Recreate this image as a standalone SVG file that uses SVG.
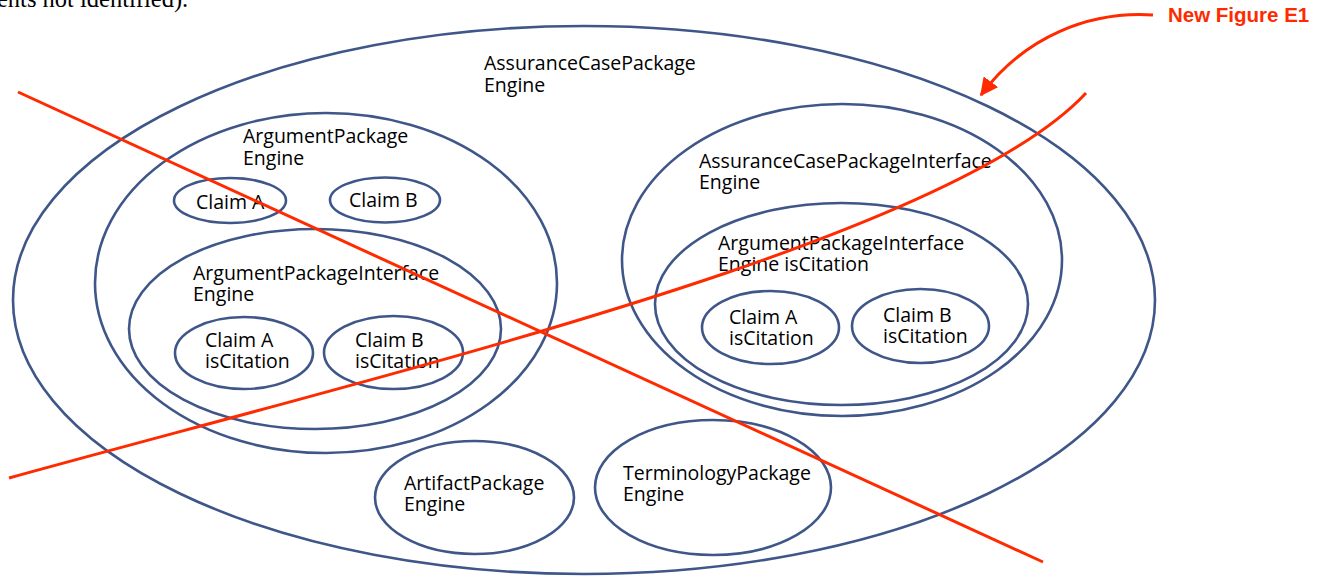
<svg xmlns="http://www.w3.org/2000/svg" width="1329" height="577" viewBox="0 0 1329 577">
<style>
.node{fill:none;stroke:#3f5689;stroke-width:2.6}
.lbl{font-family:"Open Sans","Noto Sans",sans-serif;font-size:19.5px;fill:#000}
.red{fill:none;stroke:#ff2a00;stroke-width:3;stroke-linecap:butt}
.note{font-family:"Liberation Sans",Arial,sans-serif;font-weight:bold;font-size:20.5px;fill:#ff2a00}
.doc{font-family:"Liberation Serif","Times New Roman",serif;font-size:24.5px;fill:#000}
</style>
<defs>
<marker id="ah" markerWidth="6" markerHeight="6" refX="5.5" refY="3" orient="auto" markerUnits="strokeWidth">
<path d="M0,0 L6,3 L0,6 Z" fill="#ff2a00"/>
</marker>
</defs>
<rect width="1329" height="577" fill="#fff"/>
<text class="doc" x="-3" y="7">ents not identified).</text>

<g id="assurance-case-package">
<ellipse class="node" cx="584" cy="300" rx="571" ry="274"/>
<text class="lbl" x="484" y="70">AssuranceCasePackage<tspan x="484" dy="22">Engine</tspan></text>
</g>

<g id="argument-package">
<ellipse class="node" cx="326" cy="283" rx="231" ry="170"/>
<text class="lbl" x="243" y="143">ArgumentPackage<tspan x="243" dy="22">Engine</tspan></text>
</g>

<g id="claim-a">
<ellipse class="node" cx="230" cy="200.5" rx="56" ry="22.5"/>
<text class="lbl" x="196" y="209">Claim A</text>
</g>

<g id="claim-b">
<ellipse class="node" cx="385" cy="200" rx="55" ry="22.5"/>
<text class="lbl" x="349" y="207">Claim B</text>
</g>

<g id="argument-package-interface">
<ellipse class="node" cx="315" cy="329" rx="186" ry="100"/>
<text class="lbl" x="193" y="280">ArgumentPackageInterface<tspan x="193" dy="21">Engine</tspan></text>
</g>

<g id="claim-a-citation">
<ellipse class="node" cx="244" cy="353" rx="69" ry="36"/>
<text class="lbl" x="205" y="347">Claim A<tspan x="205" dy="21">isCitation</tspan></text>
</g>

<g id="claim-b-citation">
<ellipse class="node" cx="393.5" cy="352.5" rx="69.5" ry="36.5"/>
<text class="lbl" x="355" y="347">Claim B<tspan x="355" dy="21">isCitation</tspan></text>
</g>

<g id="assurance-case-package-interface">
<ellipse class="node" cx="842" cy="260" rx="220" ry="156"/>
<text class="lbl" x="699" y="168">AssuranceCasePackageInterface<tspan x="699" dy="21">Engine</tspan></text>
</g>

<g id="argument-package-interface-citation">
<ellipse class="node" cx="841.5" cy="304" rx="186.5" ry="101"/>
<text class="lbl" x="718" y="250">ArgumentPackageInterface<tspan x="718" dy="21">Engine isCitation</tspan></text>
</g>

<g id="claim-a-citation-2">
<ellipse class="node" cx="770.5" cy="327.5" rx="68.5" ry="36.5"/>
<text class="lbl" x="729" y="324">Claim A<tspan x="729" dy="21">isCitation</tspan></text>
</g>

<g id="claim-b-citation-2">
<ellipse class="node" cx="920.5" cy="326" rx="68.5" ry="37"/>
<text class="lbl" x="883" y="322">Claim B<tspan x="883" dy="21">isCitation</tspan></text>
</g>

<g id="artifact-package">
<ellipse class="node" cx="474.5" cy="497.5" rx="99.5" ry="56.5"/>
<text class="lbl" x="404" y="490">ArtifactPackage<tspan x="404" dy="21">Engine</tspan></text>
</g>

<g id="terminology-package">
<ellipse class="node" cx="713" cy="487.5" rx="118" ry="67.5"/>
<text class="lbl" x="623" y="480">TerminologyPackage<tspan x="623" dy="21">Engine</tspan></text>
</g>

<g id="connectors">
<line class="red" x1="18" y1="92" x2="1043" y2="562"/>
<path class="red" d="M9,478 C400,370 950,240 1086,93"/>
<path class="red" d="M1153,15 C1090,11 1025,36 981,95" marker-end="url(#ah)"/>
</g>

<g id="note">
<text class="note" x="1168" y="22">New Figure E1</text>
</g>
</svg>
